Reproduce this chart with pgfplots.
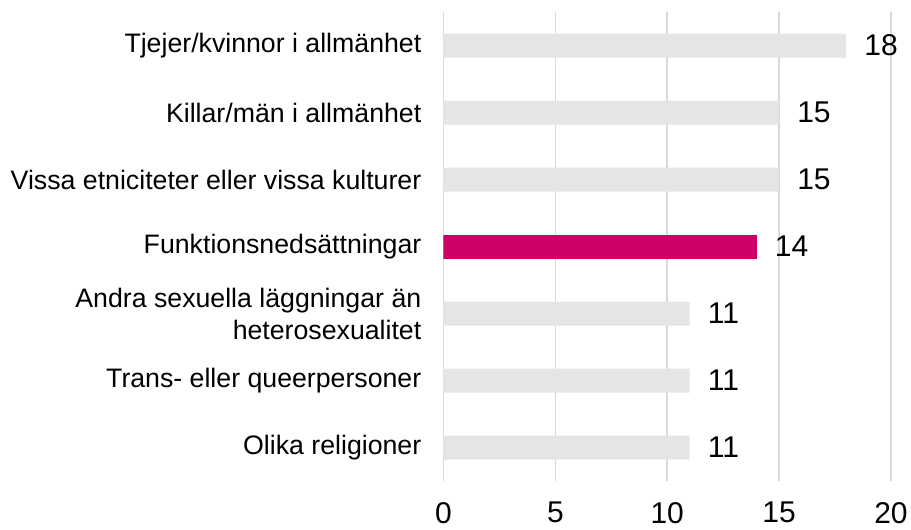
\documentclass[border=0pt]{standalone}
\usepackage{pgfplots}
\pgfplotsset{compat=1.18}
\usepackage{fontspec}
\setmainfont{Liberation Sans}
\definecolor{barg}{HTML}{E5E5E5}
\definecolor{barp}{HTML}{CC0066}
\definecolor{gridc}{HTML}{D9D9D9}
\begin{document}
\begin{tikzpicture}
\begin{axis}[
  name=ax,
  scale only axis, width=447.5pt, height=469pt,
  xmin=0, xmax=20, ymin=-0.5, ymax=6.5, y dir=reverse,
  xtick={0,5,10,15,20}, ytick={0,1,2,3,4,5,6},
  yticklabels={Tjejer/kvinnor i allmänhet, Killar/män i allmänhet, Vissa etniciteter eller vissa kulturer, Funktionsnedsättningar, {Andra sexuella läggningar än\\heterosexualitet}, Trans- eller queerpersoner, Olika religioner},
  axis line style={draw=none},
  major tick length=0pt,
  xmajorgrids, grid style={gridc, line width=1.5pt},
  /pgf/number format/assume math mode=true,
  xticklabel style={inner sep=0pt, anchor=north, yshift=-21pt, font=\fontsize{30}{36}\selectfont},
  yticklabel style={inner sep=0pt, anchor=east, xshift=-22pt, align=right, font=\fontsize{26.7}{32}\selectfont},
  xbar, bar width=24pt, bar shift=0pt,
  point meta=x,
  nodes near coords,
  nodes near coords style={anchor=west, inner sep=0pt, xshift=18pt, font=\fontsize{30}{36}\selectfont, text=black},
]
\addplot[fill=barg, draw=none] coordinates {(18,0) (15,1) (15,2) (11,4) (11,5) (11,6)};
\addplot[fill=barp, draw=none] coordinates {(14,3)};
\end{axis}
\pgfresetboundingbox
\path (ax.south west) ++(-443.5pt,-49pt) rectangle ++(911pt,530pt);
\end{tikzpicture}
\end{document}
